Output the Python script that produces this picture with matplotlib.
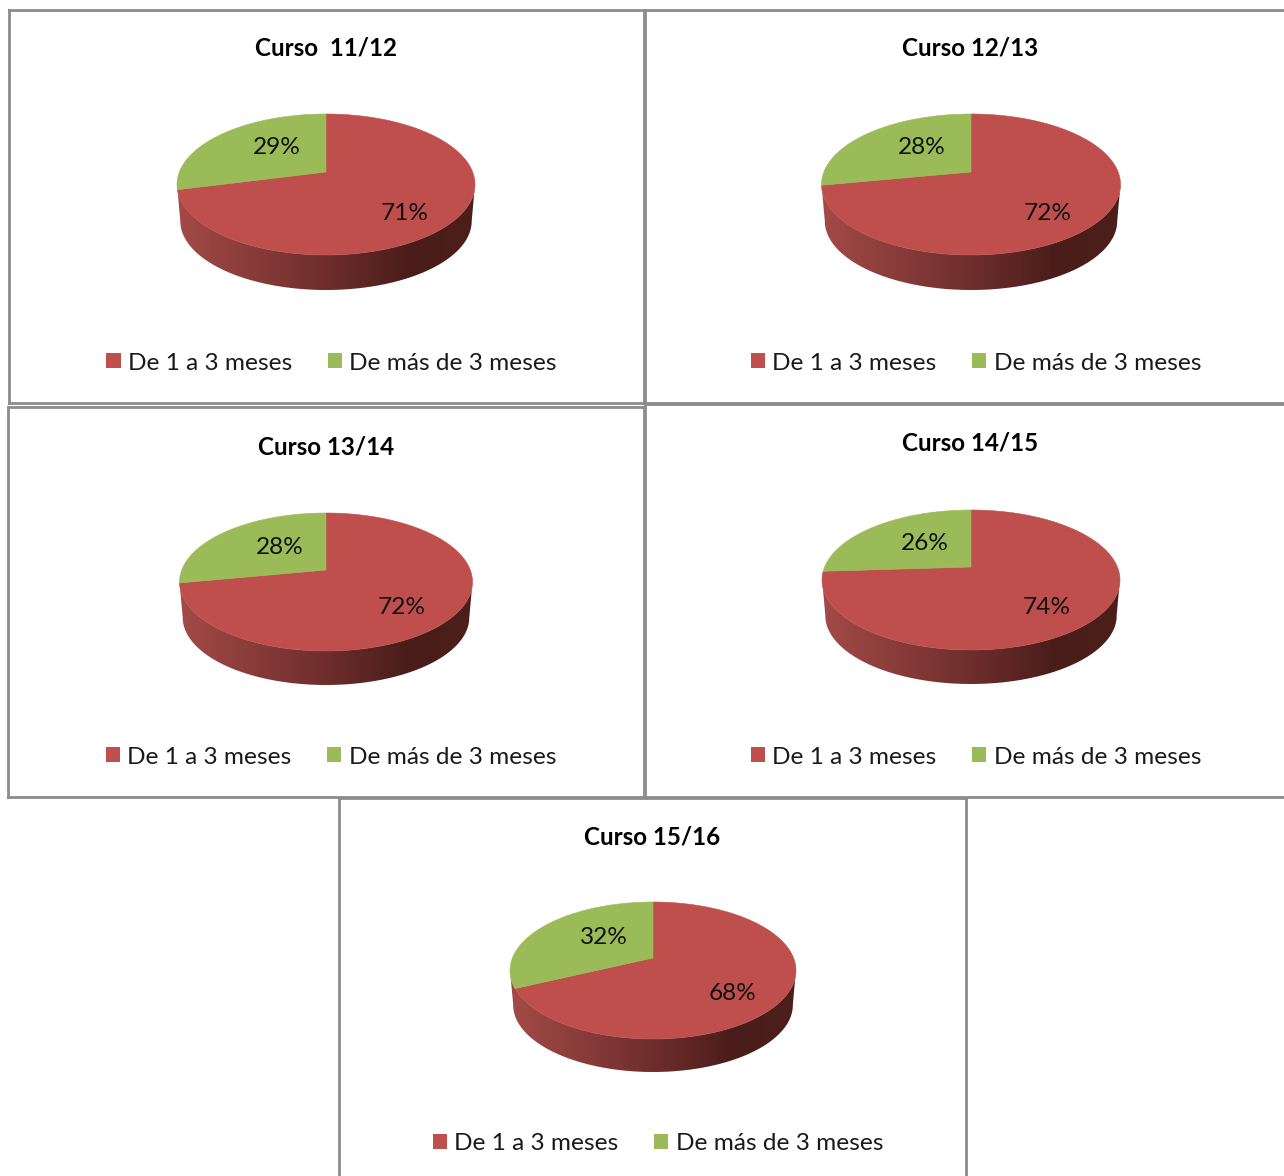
import numpy as np
import matplotlib
matplotlib.use('Agg')
import matplotlib.pyplot as plt
from matplotlib.colors import LinearSegmentedColormap
from matplotlib.patches import Patch, Polygon

plt.rcParams['font.family'] = ['Lato', 'DejaVu Sans']

W, H = 1284, 1176

# data
titles = ['Curso  11/12', 'Curso 12/13', 'Curso 13/14', 'Curso 14/15', 'Curso 15/16']
categories = ['De 1 a 3 meses', 'De más de 3 meses']
corto = [71, 72, 72, 74, 68]
largo = [29, 28, 28, 26, 32]

# layout, all in pixels of the picture
frames = [(9, 10, 644, 403), (645, 10, 1295, 403), (8, 407, 644, 797),
          (645, 404, 1295, 797), (339, 798, 966, 1190)]
apex = [(326, 172), (971, 172), (326, 570), (971, 567), (653, 958)]
half_width = [149, 149.5, 146.5, 149, 143]
rise = [58, 58, 57, 57, 56]
drop = [83, 83, 81, 83, 81]
floor = [290, 290, 685, 684, 1072]
title_pos = [(326, 48), (970, 48), (326, 447), (970, 443), (652, 837)]
corto_pos = [(405, 213), (1048, 213), (402, 608), (1047, 608), (732, 994)]
largo_pos = [(277, 148), (922, 148), (280, 547), (925, 543), (604, 937)]
legend_pos = [(331.5, 363), (976, 363), (331, 757), (976, 757), (658, 1144)]

RED = '#BE4F4C'
GREEN = '#9BBB59'
wall_red = LinearSegmentedColormap.from_list(
    'wall_red', [(0, '#A34A47'), (0.5, '#6E2E2C'), (0.78, '#4A1D1A'), (1, '#4C1F1B')])
wall_green = LinearSegmentedColormap.from_list('wall_green', ['#7E9A48', '#6F8A3E'])


def project(theta, cx, cy, hw, up, down, scale=1.0, shift=0.0):
    '''perspective view of points on the rim of the pie (theta in degrees)'''
    k = (down - up) / (down + up)
    a = up * (1 + k)
    b = hw * np.sqrt(1 - k ** 2)
    t = np.radians(theta)
    d = 1 + k * np.sin(t)
    return cx + scale * b * np.cos(t) / d, cy + shift - scale * a * np.sin(t) / d


def draw_wall(ax, t0, t1, cmap, cx, cy, hw, up, down, bottom):
    scale = 0.978
    shift = bottom - cy - scale * down
    t = np.linspace(t0, t1, 80)
    x1, y1 = project(t, cx, cy, hw, up, down)
    x2, y2 = project(t[::-1], cx, cy, hw, up, down, scale, shift)
    poly = Polygon(np.column_stack([np.r_[x1, x2], np.r_[y1, y2]]), closed=True,
                   facecolor='none', edgecolor='none')
    ax.add_patch(poly)
    grad = np.linspace(0, 1, 256).reshape(1, -1)
    im = ax.imshow(grad, cmap=cmap, aspect='auto', zorder=1, vmin=0, vmax=1,
                   extent=(cx - hw, cx + hw, bottom, cy - up))
    im.set_clip_path(poly)


fig = plt.figure(figsize=(W / 100, H / 100), dpi=100, facecolor='white')

for i in range(5):
    x0, y0, x1, y1 = frames[i]
    ax = fig.add_axes([x0 / W, 1 - y1 / H, (x1 - x0) / W, (y1 - y0) / H])

    # the pie gives the slice angles, red clockwise from the top
    wedges, _ = ax.pie([corto[i], largo[i]], startangle=90, counterclock=False)
    angles = [(w.theta1, w.theta2) for w in wedges]
    for w in wedges:
        w.remove()

    ax.set_aspect('auto')
    ax.set_frame_on(True)
    for s in ax.spines.values():
        s.set_color('#8C8C8C')
        s.set_linewidth(2.0)

    cx, cy = apex[i]
    hw, up, down = half_width[i], rise[i], drop[i]

    # side of the pie, only the part seen from the front
    green_end = angles[1][0] % 360
    draw_wall(ax, max(green_end, 190), 350, wall_red, cx, cy, hw, up, down, floor[i])
    if green_end > 190:
        draw_wall(ax, 190, green_end, wall_green, cx, cy, hw, up, down, floor[i])

    # top of the pie
    for (t0, t1), col in zip(angles, [RED, GREEN]):
        t = np.linspace(t0, t1, 200)
        px, py = project(t, cx, cy, hw, up, down)
        ax.add_patch(Polygon(np.column_stack([np.r_[cx, px], np.r_[cy, py]]), closed=True,
                             facecolor=col, edgecolor=col, linewidth=0.4, zorder=2))

    ax.set_xlim(x0, x1)
    ax.set_ylim(y1, y0)
    ax.set_xticks([])
    ax.set_yticks([])

    ax.text(*title_pos[i], titles[i], ha='center', va='center', fontsize=17.4,
            fontweight='bold', color='black')
    ax.text(*corto_pos[i], f'{corto[i]}%', ha='center', va='center', fontsize=17.6,
            color='#111111', zorder=3)
    ax.text(*largo_pos[i], f'{largo[i]}%', ha='center', va='center', fontsize=17.6,
            color='#111111', zorder=3)

    handles = [Patch(facecolor=RED, label=categories[0]),
               Patch(facecolor=GREEN, label=categories[1])]
    ax.legend(handles=handles, loc='center', bbox_to_anchor=legend_pos[i],
              bbox_transform=ax.transData, ncol=2, frameon=False, fontsize=17.6,
              handlelength=0.58, handleheight=0.58, handletextpad=0.3,
              columnspacing=1.45, borderpad=0, labelcolor='#1A1A1A')

fig.savefig('out.png', dpi=100)
